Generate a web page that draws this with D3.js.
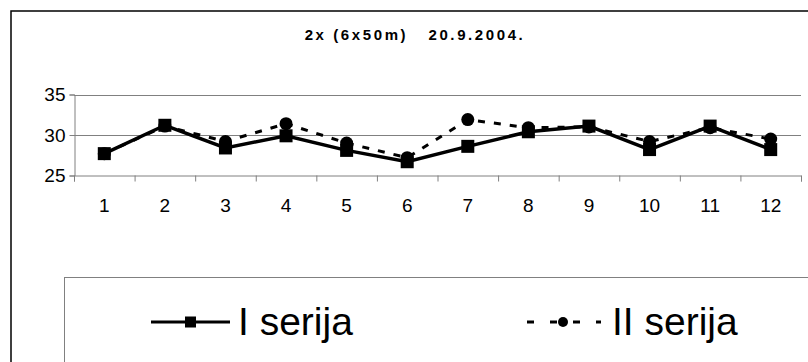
<!DOCTYPE html>
<html>
<head>
<meta charset="utf-8">
<script src="https://cdn.jsdelivr.net/npm/d3@7/dist/d3.min.js"></script>
<style>
  body { margin: 0; background: #fff; }
  svg { display: block; font-family: "Liberation Sans", Arial, sans-serif; }
</style>
</head>
<body>
<svg id="chart" width="808" height="362"></svg>
<script>
// chart data
const categories = ["1","2","3","4","5","6","7","8","9","10","11","12"];
const serija1 = [27.7, 31.2, 28.4, 29.9, 28.1, 26.7, 28.6, 30.4, 31.1, 28.2, 31.1, 28.2];
const serija2 = [27.7, 31.1, 29.2, 31.4, 29.0, 27.2, 31.9, 30.9, 31.0, 29.2, 30.9, 29.5];
const yTicks = [25, 30, 35];
const seriesNames = ["I serija", "II serija"];
const title = "2x (6x50m)   20.9.2004.";

const svg = d3.select("#chart");

// outer frame (runs off right and bottom)
svg.append("rect")
   .attr("x", 11).attr("y", 11)
   .attr("width", 820).attr("height", 400)
   .attr("fill", "none").attr("stroke", "#000").attr("stroke-width", 1.5);

svg.append("text")
   .attr("x", 415).attr("y", 40)
   .attr("text-anchor", "middle")
   .attr("font-size", 15).attr("font-weight", "bold")
   .attr("letter-spacing", 2.6)
   .style("white-space", "pre")
   .text(title);

const x = d3.scaleBand().domain(categories).range([74, 801]);
const xEdge = d3.scaleLinear().domain([0, categories.length]).range([74, 801]);
const y = d3.scaleLinear().domain([25, 35]).range([175.5, 94.5]);

// gridlines
svg.append("g").selectAll("line")
   .data(yTicks.filter(d => d > 25))
   .join("line")
   .attr("x1", 74).attr("x2", 801)
   .attr("y1", d => Math.round(y(d)) + 0.5).attr("y2", d => Math.round(y(d)) + 0.5)
   .attr("stroke", "#808080").attr("stroke-width", 1);

// y axis
const gy = svg.append("g").attr("transform", "translate(74.5,0)")
   .call(d3.axisLeft(y).tickValues(yTicks).tickSize(5).tickPadding(4).tickFormat(d3.format("d")));
gy.select(".domain").attr("stroke", "#808080");
gy.selectAll(".tick line").attr("stroke", "#808080");
gy.selectAll("text").attr("font-size", 19).attr("fill", "#000")
   .attr("font-family", "Liberation Sans, Arial, sans-serif");

// x axis: ticks at category edges, labels at centres
const gx = svg.append("g").attr("transform", "translate(0,175.5)")
   .call(d3.axisBottom(xEdge).tickValues(d3.range(categories.length + 1)).tickSize(6).tickFormat(""));
gx.select(".domain").attr("stroke", "#808080");
gx.selectAll(".tick line").attr("stroke", "#808080");
const gxl = svg.append("g").attr("transform", "translate(0,175.5)")
   .call(d3.axisBottom(x).tickSize(0).tickPadding(23));
gxl.select(".domain").remove();
gxl.selectAll("text").attr("font-size", 19).attr("fill", "#000")
   .attr("font-family", "Liberation Sans, Arial, sans-serif");

const cx = (d, i) => x(categories[i]) + x.bandwidth() / 2;
const line = d3.line().x(cx).y(d => y(d));

// series II (dashed, circles)
svg.append("path").datum(serija2)
   .attr("d", line).attr("fill", "none")
   .attr("stroke", "#000").attr("stroke-width", 3)
   .attr("stroke-dasharray", "7,9");
svg.append("g").selectAll("circle").data(serija2).join("circle")
   .attr("cx", cx).attr("cy", d => y(d)).attr("r", 6.5).attr("fill", "#000");

// series I (solid, squares)
svg.append("path").datum(serija1)
   .attr("d", line).attr("fill", "none")
   .attr("stroke", "#000").attr("stroke-width", 3.5);
svg.append("g").selectAll("rect").data(serija1).join("rect")
   .attr("x", (d, i) => cx(d, i) - 6.5).attr("y", d => y(d) - 6.5)
   .attr("width", 13).attr("height", 13).attr("fill", "#000");

// legend
svg.append("rect")
   .attr("x", 64.5).attr("y", 277.5)
   .attr("width", 800).attr("height", 200)
   .attr("fill", "none").attr("stroke", "#808080").attr("stroke-width", 1);

const legY = 322;
const leg1 = svg.append("g");
leg1.append("line").attr("x1", 151).attr("x2", 230).attr("y1", legY).attr("y2", legY)
   .attr("stroke", "#000").attr("stroke-width", 3);
leg1.append("rect").attr("x", 185).attr("y", legY - 5.5).attr("width", 11).attr("height", 11).attr("fill", "#000");
leg1.append("text").attr("x", 238).attr("y", legY + 13).attr("font-size", 39).text(seriesNames[0]);

const leg2 = svg.append("g");
leg2.append("line").attr("x1", 527).attr("x2", 601).attr("y1", legY).attr("y2", legY)
   .attr("stroke", "#000").attr("stroke-width", 3).attr("stroke-dasharray", "7,16");
leg2.append("circle").attr("cx", 563).attr("cy", legY).attr("r", 5).attr("fill", "#000");
leg2.append("text").attr("x", 612).attr("y", legY + 13).attr("font-size", 39).text(seriesNames[1]);
</script>
</body>
</html>
